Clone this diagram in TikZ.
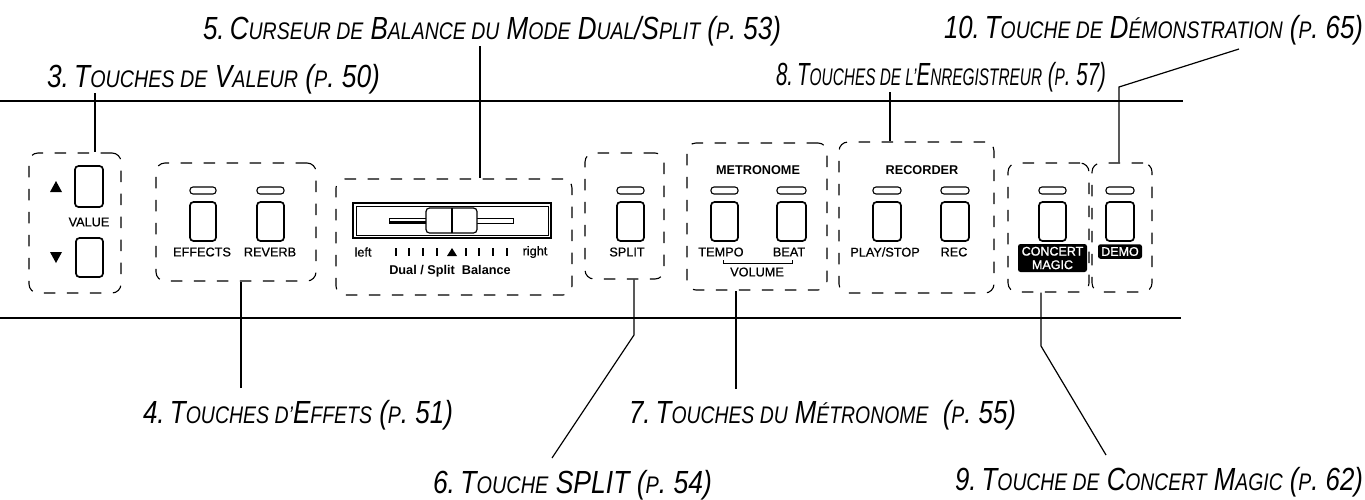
\documentclass[tikz,border=0pt]{standalone}
\usepackage{fontspec}
\usepackage{graphicx}
\setmainfont{Liberation Sans}
\newfontfamily\semi[FakeBold=0.6]{Liberation Sans}
\newfontfamily\fat[FakeBold=1.2]{Liberation Sans}
\newcommand\smcp[1]{{\fontsize{24}{26}\selectfont #1}}
\newcommand\gp{\hspace{0.2em}}
\newcommand\callout[5]{\node[calltext] (#1) at (#2,#3) {\resizebox{#4pt}{\height}{#5}};}
\newcommand\bx[6]{\node[#2,minimum width={(#5-#3)*1pt},minimum height={(#6-#4)*1pt}] (#1) at ({(#3+#5)/2},{(#4+#6)/2}) {};}
\newcommand\keyset[3]{% name, x1, x2 : led + key
  \bx{#1L}{led}{#2+1}{187}{#3-1}{194}
  \bx{#1K}{key}{#2}{202}{#3}{241}}
\tikzset{
  x=1pt,y=-1pt,
  zone/.style={draw=black,line width=1.1pt,rounded corners=9pt,dash pattern=on 11.5pt off 11.5pt,inner sep=0pt},
  key/.style={draw=black,line width=1.7pt,rounded corners=3.5pt,inner sep=0pt,fill=white},
  led/.style={draw=black,line width=1.1pt,rounded corners=3pt,inner sep=0pt},
  leader/.style={draw=black,line width=1.2pt},
  rail/.style={draw=black,line width=1.3pt},
  calltext/.style={anchor=base west,inner sep=0pt,outer sep=0pt,font=\fontsize{32}{36}\selectfont\itshape},
  small/.style={inner sep=0pt,font=\fontsize{12.7}{14}\selectfont\semi},
  smallb/.style={inner sep=0pt,font=\fontsize{12.7}{14}\selectfont\bfseries},
  badge/.style={fill=black,text=white,rounded corners=2.5pt,inner sep=0pt,align=center,font=\fontsize{12.5}{13.5}\selectfont\fat},
}
\begin{document}
\begin{tikzpicture}
\useasboundingbox[fill=white] (0,0) rectangle (1365,499);
% rails
\coordinate (railTL) at (0,101);
\coordinate (railTR) at (1183,101);
\coordinate (railBL) at (0,318);
\coordinate (railBR) at (1181,318);
\draw[rail] (railTL) -- (railTR);
\draw[rail] (railBL) -- (railBR);
% zones
\bx{zV}{zone}{29}{153}{121}{293}
\bx{zE}{zone}{156}{163}{316}{281}
\bx{zB}{zone}{336}{179}{572}{295}
\bx{zS}{zone}{585}{153}{664}{279}
\bx{zM}{zone}{687}{143}{827}{290}
\bx{zR}{zone}{839}{142}{994}{293}
\bx{zC}{zone}{1008}{163}{1089}{292}
\bx{zD}{zone}{1092}{163}{1152}{292}
% value
\bx{vUp}{key}{75}{166}{103}{207}
\bx{vDn}{key}{76}{238}{103}{277}
\node[small] (tValue) at (89,222) {VALUE};
\fill (56,181) -- (62,192) -- (50,192) -- cycle;
\fill (56,263) -- (62,252) -- (50,252) -- cycle;
% effects
\keyset{e}{190}{216}
\keyset{r}{257}{284}
\node[small] (tEff) at (202,252) {EFFECTS};
\node[small] (tRev) at (270,252) {REVERB};
% balance
\bx{bOut}{draw=black,line width=1.5pt,inner sep=0pt}{353}{203}{551}{238}
\bx{bIn}{draw=black,line width=0.6pt,inner sep=0pt}{356}{206}{548}{235}
\bx{bTrack}{draw=black,line width=0.9pt,inner sep=0pt}{389}{218}{513}{223}
\fill (389,221) rectangle (426,224);
\bx{bKnob}{key,line width=1.2pt}{426}{208}{477}{233}
\draw[line width=1.8pt] (452,208) -- (452,233);
\node[small] (tLeft) at (363,252) {left};
\node[small] (tRight) at (535,252) {right};
\foreach \tx in {396,409,423,437,466,479,493,507}{\draw[line width=1.3pt] (\tx,248) -- (\tx,256);}
\fill (452,248) -- (457,256) -- (447,256) -- cycle;
\node[smallb] (tBal) at (450,271) {Dual / Split\ \ Balance};
% split
\keyset{s}{617}{644}
\node[small] (tSplit) at (627,252) {SPLIT};
% metronome
\node[smallb] (tMet) at (758,170) {METRONOME};
\keyset{t}{711}{738}
\keyset{b}{777}{806}
\node[small] (tTempo) at (721,252) {TEMPO};
\node[small] (tBeat) at (789,252) {BEAT};
\draw[line width=0.9pt] (723,260) -- (723,263) -- (792,263) -- (792,260);
\node[small] (tVol) at (757,272) {VOLUME};
% recorder
\node[smallb] (tRecd) at (922,170) {RECORDER};
\keyset{p}{873}{901}
\keyset{c}{941}{969}
\node[small] (tPlay) at (885,252) {PLAY/STOP};
\node[small] (tRec) at (954,252) {REC};
% concert magic / demo
\keyset{m}{1039}{1066}
\keyset{d}{1106}{1134}
\node[badge,minimum width=69pt,minimum height=28pt] (tCM) at (1052.5,258) {CONCERT\\MAGIC};
\node[badge,minimum width=44pt,minimum height=14.5pt] (tDemo) at (1120,251.5) {DEMO};
% callouts
\callout{c3}{47}{87}{333}{3.\gp T\smcp{OUCHES DE} V\smcp{ALEUR} (\smcp{P}. 50)}
\callout{c5}{203}{39}{578}{5.\gp C\smcp{URSEUR DE} B\smcp{ALANCE DU} M\smcp{ODE} D\smcp{UAL}/S\smcp{PLIT} (\smcp{P}. 53)}
\callout{c10}{944}{38}{419}{10.\gp T\smcp{OUCHE DE} D\smcp{ÉMONSTRATION} (\smcp{P}. 65)}
\callout{c8}{776}{85}{330}{8.\gp T\smcp{OUCHES DE L’}E\smcp{NREGISTREUR} (\smcp{P}. 57)}
\callout{c4}{143}{423}{310}{4.\gp T\smcp{OUCHES D’}E\smcp{FFETS} (\smcp{P}. 51)}
\callout{c6}{433}{493}{279}{6.\gp T\smcp{OUCHE} SPLIT (\smcp{P}. 54)}
\callout{c7}{629}{423}{387}{7.\gp T\smcp{OUCHES DU} M\smcp{ÉTRONOME}\ \ (\smcp{P}. 55)}
\callout{c9}{955}{490}{408}{9.\gp T\smcp{OUCHE DE} C\smcp{ONCERT} M\smcp{AGIC} (\smcp{P}. 62)}
% leaders
\coordinate (l3) at (95,93);
\coordinate (l5) at (480,46);
\coordinate (l8) at (890,92);
\coordinate (l10a) at (1239,49);
\coordinate (l10b) at (1119,87);
\coordinate (l4) at (241,388);
\coordinate (l7) at (736,389);
\coordinate (l6a) at (552,458);
\coordinate (l6b) at (634,335);
\coordinate (l9a) at (1106,455);
\coordinate (l9b) at (1041,346);
\draw[leader] (l3) -- (l3 |- zV.north);
\draw[leader] (l5) -- (l5 |- zB.north);
\draw[leader] (l8) -- (l8 |- zR.north);
\draw[leader] (l10a) -- (l10b) -- (l10b |- zD.north);
\draw[leader] (l4) -- (l4 |- zE.south);
\draw[leader] (l7) -- (l7 |- zM.south);
\draw[leader] (l6a) -- (l6b) -- (l6b |- zS.south);
\draw[leader] (l9a) -- (l9b) -- (l9b |- zC.south);
\end{tikzpicture}
\end{document}
